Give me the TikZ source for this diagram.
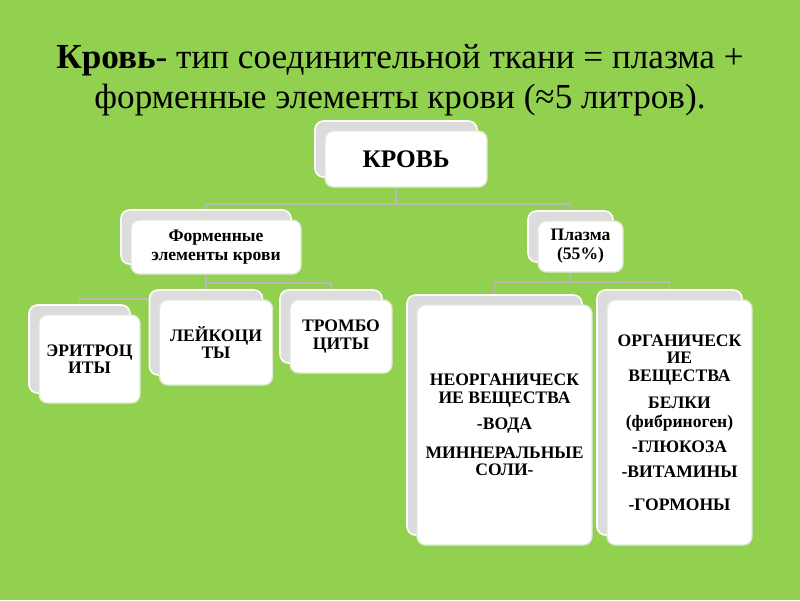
\documentclass[tikz,border=0pt]{standalone}
\usepackage{fontspec}
\setmainfont{Liberation Serif}
\usepackage{xcolor}
\usetikzlibrary{positioning, calc}

\definecolor{leaf}{HTML}{92D050}
\definecolor{cardgray}{HTML}{DCDCDC}
\definecolor{cardrim}{HTML}{E0E8D6}
\definecolor{wire}{HTML}{B8B8B8}

\pgfdeclarelayer{bg}
\pgfdeclarelayer{wires}
\pgfsetlayers{bg,wires,main}

\begin{document}
\begin{tikzpicture}[
  x=0.025cm, y=-0.025cm,
  back/.style 2 args={draw=white, line width=1.1pt, fill=cardgray,
               rounded corners=6pt, inner sep=0pt,
               minimum width=#1*0.025cm, minimum height=#2*0.025cm},
  card/.style 2 args={draw=cardrim, line width=0.9pt, fill=white,
               rounded corners=6pt, inner sep=1pt, align=center,
               minimum width=#1*0.025cm, minimum height=#2*0.025cm,
               font=\bfseries\fontsize{12.5}{12.5}\selectfont},
  title/.style={font=\fontsize{25}{28.5}\selectfont, align=center, inner sep=0pt},
  wire/.style={draw=wire, line width=1.3pt}
]
\useasboundingbox (0,0) rectangle (800,600);
\begin{pgfonlayer}{bg}
  \fill[leaf] (0,0) rectangle (800,600);
\end{pgfonlayer}
% heading
\node[title] (head) at (400,80)
  {\textbf{Кровь}- тип соединительной ткани = плазма +\\
   форменные элементы крови (≈5 литров).};
% top level
\node[back={162}{56}] (bloodb) at (396,149) {};
\node[card={162}{56}, font=\bfseries\fontsize{18}{20}\selectfont] (blood)
  at ([shift={(10,10)}]bloodb.center) {КРОВЬ};
% second level
\node[back={170}{54}] (formb) at (206,237) {};
\node[card={170}{54}, font=\bfseries\fontsize{12.5}{13.5}\selectfont] (form)
  at ([shift={(10,10)}]formb.center) {Форменные\\элементы крови};
\node[back={85}{51}] (plasmab) at (570.5,236.5) {};
\node[card={85}{51}, font=\bfseries\fontsize{12.5}{13.5}\selectfont] (plasma)
  at ([shift={(10,10)}]plasmab.center) {Плазма\\(55\%)};
% formed elements
\node[back={101}{88}] (eryb) at (79.5,349) {};
\node[card={101}{88}] (ery) at ([shift={(10,10)}]eryb.center) {ЭРИТРОЦ\\ИТЫ};
\node[back={113}{85}] (leukb) at (206,332.5) {};
\node[card={113}{85}] (leuk) at ([shift={(10,10)}]leukb.center) {ЛЕЙКОЦИ\\ТЫ};
\node[back={102}{73}] (thrb) at (331,326.5) {};
\node[card={102}{73}] (thr) at ([shift={(10,10)}]thrb.center) {ТРОМБО\\ЦИТЫ};
% plasma parts
\node[back={175}{240}] (inorgb) at (494.5,415) {};
\node[card={175}{240}] (inorg) at ([shift={(10,10)}]inorgb.center)
  {НЕОРГАНИЧЕСК\\ИЕ ВЕЩЕСТВА\\[6pt]-ВОДА\\[8pt]МИННЕРАЛЬНЫЕ\\СОЛИ-};
\node[back={145}{245}] (orgb) at (669.5,412.5) {};
\node[card={145}{245}] (org) at ([shift={(10,10)}]orgb.center)
  {ОРГАНИЧЕСК\\ИЕ\\ВЕЩЕСТВА\\[6.5pt]БЕЛКИ\\[1.5pt](фибриноген)\\[5pt]-ГЛЮКОЗА\\[5pt]-ВИТАМИНЫ\\[11pt]-ГОРМОНЫ};
% connectors
\begin{pgfonlayer}{wires}
  \draw[wire] (bloodb.south) -- ++(0,26) -| (formb.north);
  \draw[wire] (bloodb.south) -- ++(0,26) -| (plasmab.north);
  \draw[wire] (formb.south) -- (leukb.north);
  \draw[wire] (formb.south) -- ++(0,18) -| (thrb.north);
  \draw[wire] (formb.south) -- ++(0,34) -| (eryb.north);
  \draw[wire] (plasmab.south) -- ++(0,19) -| (inorgb.north);
  \draw[wire] (plasmab.south) -- ++(0,19) -| (orgb.north);
\end{pgfonlayer}
\end{tikzpicture}
\end{document}
